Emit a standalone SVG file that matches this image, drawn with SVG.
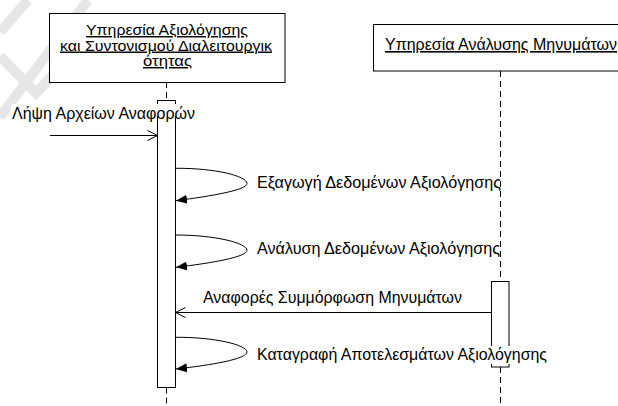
<svg xmlns="http://www.w3.org/2000/svg" width="618" height="406" viewBox="0 0 618 406">
<style>
  .wm { fill: none; stroke: #e6e6e6; stroke-width: 10; }
  .box { fill: #ffffff; stroke: #000000; stroke-width: 1; }
  .bar { fill: #ffffff; stroke: #000000; stroke-width: 1; }
  .life { stroke: #000000; stroke-width: 1; stroke-dasharray: 6 4; fill: none; }
  .msg { fill: none; stroke: #000000; stroke-width: 1; }
  text { font-family: "Liberation Sans", Arial, sans-serif; font-size: 16px; fill: #000000; }
  .u { text-decoration: underline; }
  .t3 { font-size: 14.5px; }
  .bg { fill: #ffffff; stroke: none; }
</style>
<defs>
  <marker id="open" markerWidth="12" markerHeight="12" refX="11" refY="6" orient="auto" markerUnits="userSpaceOnUse">
    <path d="M1,1 L11,6 L1,11" fill="none" stroke="#000000" stroke-width="1"/>
  </marker>
  <marker id="filled" markerWidth="12" markerHeight="10" refX="11" refY="5" orient="auto" markerUnits="userSpaceOnUse">
    <path d="M0,0.5 L11,5 L0,9.5 Z" fill="#000000" stroke="none"/>
  </marker>
</defs>
<rect x="0" y="0" width="618" height="406" fill="#ffffff"/>
<g id="watermark">
  <path class="wm" d="M0,32 L28,0"/>
  <path class="wm" d="M88,0 L0,117"/>
  <path class="wm" d="M0,56 L36,93 L52,76"/>
</g>
<g id="lifelines">
  <line class="life" x1="166.5" y1="82" x2="166.5" y2="100.5"/>
  <line class="life" x1="166.5" y1="387.5" x2="166.5" y2="406"/>
  <line class="life" x1="500.5" y1="71" x2="500.5" y2="281.5"/>
  <line class="life" x1="500.5" y1="367" x2="500.5" y2="406"/>
</g>
<g id="node-evaluation-service">
  <rect class="box" x="49.5" y="13.5" width="235.5" height="69"/>
  <text class="u t3" x="167" y="35" text-anchor="middle" textLength="162" lengthAdjust="spacingAndGlyphs">Υπηρεσία Αξιολόγησης</text>
  <text class="u t3" x="166" y="50.5" text-anchor="middle" textLength="212" lengthAdjust="spacingAndGlyphs">και Συντονισμού Διαλειτουργικ</text>
  <text class="u t3" x="167.5" y="66" text-anchor="middle" textLength="49" lengthAdjust="spacingAndGlyphs">ότητας</text>
</g>
<g id="node-message-analysis-service">
  <rect class="box" x="373.5" y="24.5" width="250" height="46.5"/>
  <text class="u" x="385" y="50" textLength="232" lengthAdjust="spacingAndGlyphs">Υπηρεσία Ανάλυσης Μηνυμάτων</text>
</g>
<g id="activation-1">
  <rect class="bar" x="157.5" y="100.5" width="18" height="287"/>
</g>
<g id="activation-2">
  <rect class="bar" x="491.5" y="281.5" width="17.5" height="85.5"/>
</g>
<g id="connectors">
  <line class="msg" x1="50" y1="135.5" x2="157.5" y2="135.5" marker-end="url(#open)"/>
  <path class="msg" d="M175.5,168.3 C215,168 247,176 247,183.5 C247,190 212,196 176,200.7" marker-end="url(#filled)"/>
  <path class="msg" d="M175.5,235 C215,235 247,243 247,250.3 C247,257 212,263 176,267.3" marker-end="url(#filled)"/>
  <line class="msg" x1="491.5" y1="312.5" x2="175.5" y2="312.5" marker-end="url(#open)"/>
  <path class="msg" d="M175.5,337.3 C215,337 247,345 247,352 C247,359 212,365 176,369" marker-end="url(#filled)"/>
</g>
<g id="labels">
  <rect class="bg" x="11" y="104" width="187" height="12"/>
  <text x="12" y="119" textLength="183" lengthAdjust="spacingAndGlyphs">Λήψη Αρχείων Αναφορών</text>
  <text x="257" y="187.5" textLength="244" lengthAdjust="spacingAndGlyphs">Εξαγωγή Δεδομένων Αξιολόγησης</text>
  <text x="257" y="254" textLength="243" lengthAdjust="spacingAndGlyphs">Ανάλυση Δεδομένων Αξιολόγησης</text>
  <text x="203" y="303" textLength="259" lengthAdjust="spacingAndGlyphs">Αναφορές Συμμόρφωση Μηνυμάτων</text>
  <rect class="bg" x="256" y="346" width="293" height="18"/>
  <text x="257" y="359.5" textLength="290" lengthAdjust="spacingAndGlyphs">Καταγραφή Αποτελεσμάτων Αξιολόγησης</text>
</g>
</svg>
